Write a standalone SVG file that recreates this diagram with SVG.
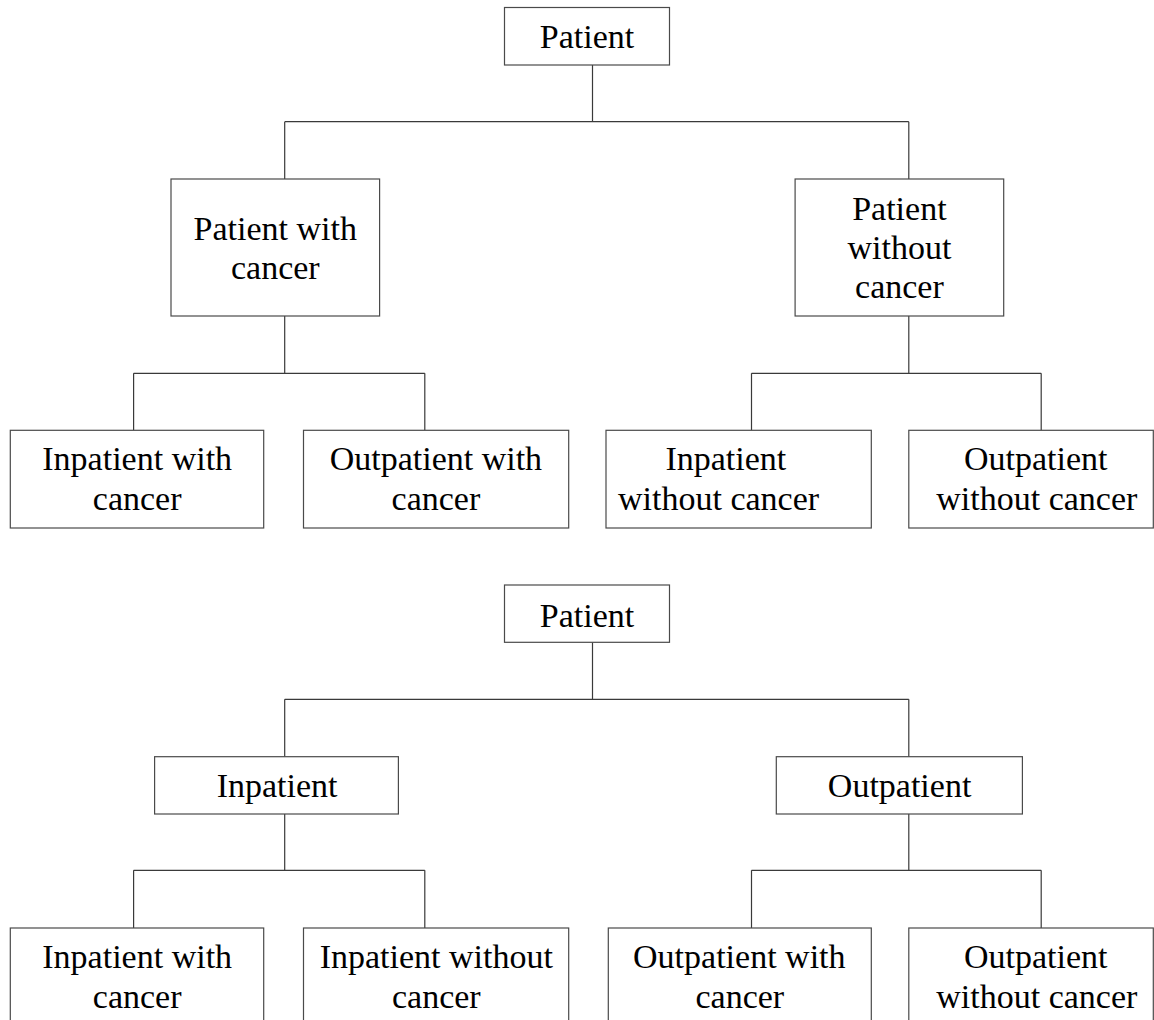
<svg xmlns="http://www.w3.org/2000/svg" width="1154" height="1020" viewBox="0 0 1154 1020">
<style>
rect.box{fill:#fff;stroke:#4a4a4a;stroke-width:1.2}
.conn path{fill:none;stroke:#3a3a3a;stroke-width:1.2}
text{font-family:"Liberation Serif","Times New Roman",serif;font-size:34px;fill:#000;text-anchor:middle}
</style>
<rect width="1154" height="1020" fill="#fff"/>
<g class="conn" id="connectors">
<path d="M592.5 65V121.7M284.7 121.7H908.8M284.7 121.7V179M908.8 121.7V179"/>
<path d="M284.7 316V373.3M133.6 373.3H424.8M133.6 373.3V430.3M424.8 373.3V430.3"/>
<path d="M908.8 316V373.3M751.5 373.3H1041.2M751.5 373.3V430.3M1041.2 373.3V430.3"/>
<path d="M592.5 642.3V699.3M284.7 699.3H908.8M284.7 699.3V756.7M908.8 699.3V756.7"/>
<path d="M284.7 814V870.3M133.6 870.3H424.8M133.6 870.3V928M424.8 870.3V928"/>
<path d="M908.8 814V870.3M751.5 870.3H1041.2M751.5 870.3V928M1041.2 870.3V928"/>
</g>
<g id="t1-patient"><rect class="box" x="504.5" y="7.5" width="165" height="57.5"/><text x="587" y="48.3">Patient</text></g>
<g id="t1-with"><rect class="box" x="171" y="179" width="208.6" height="137"/><text x="275.3" y="240">Patient with</text><text x="275.3" y="279.3">cancer</text></g>
<g id="t1-without"><rect class="box" x="795.1" y="179" width="208.6" height="137"/><text x="899.4" y="220">Patient</text><text x="899.4" y="259.3">without</text><text x="899.4" y="298.3">cancer</text></g>
<g id="t1-in-with"><rect class="box" x="10.3" y="430.3" width="253.4" height="97.7"/><text x="137.2" y="470">Inpatient with</text><text x="137.2" y="510">cancer</text></g>
<g id="t1-out-with"><rect class="box" x="303.5" y="430.3" width="265.2" height="97.7"/><text x="435.9" y="470">Outpatient with</text><text x="435.9" y="510">cancer</text></g>
<g id="t1-in-without"><rect class="box" x="606" y="430.3" width="265.3" height="97.7"/><text x="725.8" y="470">Inpatient</text><text x="718.6" y="510">without cancer</text></g>
<g id="t1-out-without"><rect class="box" x="908.8" y="430.3" width="244.5" height="97.7"/><text x="1035.8" y="470">Outpatient</text><text x="1036.8" y="510">without cancer</text></g>
<g id="t2-patient"><rect class="box" x="504.5" y="585" width="165" height="57.3"/><text x="587" y="626.7">Patient</text></g>
<g id="t2-in"><rect class="box" x="154.6" y="756.7" width="243.8" height="57.3"/><text x="277.1" y="796.7">Inpatient</text></g>
<g id="t2-out"><rect class="box" x="776.3" y="756.7" width="246.1" height="57.3"/><text x="899.6" y="796.7">Outpatient</text></g>
<g id="t2-in-with"><rect class="box" x="10.3" y="928" width="253.4" height="110"/><text x="137.2" y="968.3">Inpatient with</text><text x="137.2" y="1008.3">cancer</text></g>
<g id="t2-in-without"><rect class="box" x="303.5" y="928" width="265.2" height="110"/><text x="436.3" y="968.3">Inpatient without</text><text x="436.3" y="1008.3">cancer</text></g>
<g id="t2-out-with"><rect class="box" x="608.3" y="928" width="263" height="110"/><text x="739.3" y="968.3">Outpatient with</text><text x="739.8" y="1008.3">cancer</text></g>
<g id="t2-out-without"><rect class="box" x="908.8" y="928" width="244.5" height="110"/><text x="1035.8" y="968.3">Outpatient</text><text x="1036.8" y="1008.3">without cancer</text></g>
</svg>
